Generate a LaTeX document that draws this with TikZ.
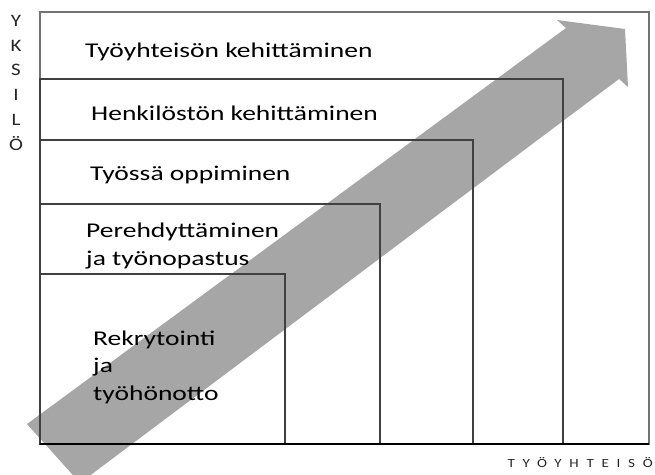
\documentclass[tikz,border=0pt]{standalone}
\usepackage{fontspec}
\setmainfont{Carlito}
\begin{document}
\begin{tikzpicture}[x=1pt,y=-1pt,
  level/.style={draw=black!75, line width=1.1pt},
  label/.style={anchor=base west, inner sep=0pt, font=\fontsize{21}{27.5}\selectfont\addfontfeature{FakeStretch=1.31}, align=left},
  axisletter/.style={inner sep=0pt, anchor=base, font=\fontsize{17.5}{18}\selectfont\addfontfeature{FakeStretch=1.2}, text=black!85}]
\useasboundingbox (0,0) rectangle (655,474);
\clip (0,0) rectangle (655,474);

% rising arrow behind the levels
\fill[black!35] (27,424) coordinate (tailA) -- (566,28) -- (557,20) -- (625,29)
  -- (628,87) -- (619,79) -- (80,483) coordinate (tailB) -- cycle;

% nested levels sharing the lower left corner
\coordinate (origin) at (40,444);
\draw[level, draw=black!55] (origin) rectangle (649,12) coordinate (c1);
\draw[level] (origin) rectangle (563,79) coordinate (c2);
\draw[level] (origin) rectangle (473,140) coordinate (c3);
\draw[level] (origin) rectangle (380,204) coordinate (c4);
\draw[level] (origin) rectangle (285,274) coordinate (c5);
\draw[line width=1.8pt, black] (origin) -- (649,444) coordinate (baseR);

% level labels (multi-line labels are anchored at their last baseline)
\node[label] (l1) at (85,57) {Työyhteisön kehittäminen};
\node[label] (l2) at (91,120) {Henkilöstön kehittäminen};
\node[label] (l3) at (90,180) {Työssä oppiminen};
\node[label] (l4) at (86,265) {Perehdyttäminen\\ja työnopastus};
\node[label] (l5) at (93,400) {Rekrytointi\\ja\\työhönotto};

% vertical axis word
\node[axisletter] (v1) at (16,26) {Y};
\node[axisletter] (v2) at (16,51) {K};
\node[axisletter] (v3) at (16,75) {S};
\node[axisletter] (v4) at (16,100) {I};
\node[axisletter] (v5) at (16,125) {L};
\node[axisletter] (v6) at (16,150) {Ö};

% horizontal axis word
\node[anchor=base east, inner sep=0pt, font=\fontsize{12.5}{14}\selectfont\addfontfeature{FakeStretch=1.2,LetterSpace=62}, text=black!85] (h) at (653,467) {TYÖYHTEISÖ};
\end{tikzpicture}
\end{document}
